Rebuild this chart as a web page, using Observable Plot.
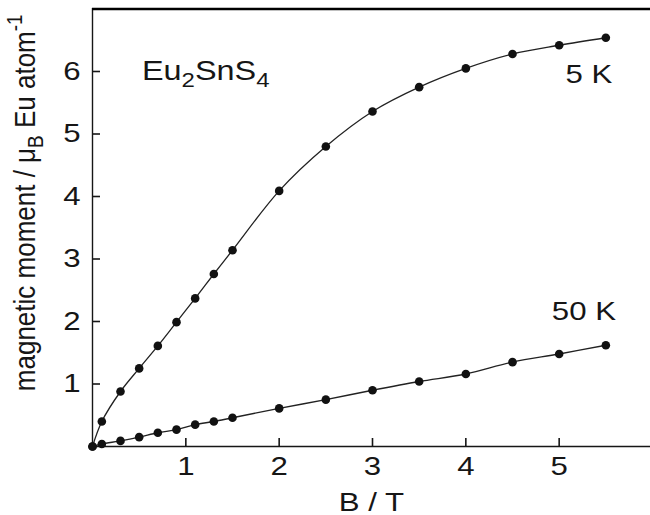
<!DOCTYPE html>
<html>
<head>
<meta charset="utf-8">
<script src="https://cdn.jsdelivr.net/npm/d3@7"></script>
<script src="https://cdn.jsdelivr.net/npm/@observablehq/plot@0.6"></script>
<style>
  body { margin: 0; background: #fff; }
</style>
</head>
<body>
<div id="chart"></div>
<script>
// Applied field B (T) at which the magnetisation was measured
const fieldT = [0, 0.1, 0.3, 0.5, 0.7, 0.9, 1.1, 1.3, 1.5, 2, 2.5, 3, 3.5, 4, 4.5, 5, 5.5];
// Magnetic moment per Eu atom (μB) at 5 K and 50 K
const moment5K  = [0, 0.40, 0.88, 1.25, 1.61, 1.99, 2.37, 2.76, 3.14, 4.09, 4.80, 5.36, 5.75, 6.05, 6.28, 6.42, 6.54];
const moment50K = [0, 0.04, 0.09, 0.15, 0.22, 0.27, 0.35, 0.40, 0.46, 0.61, 0.75, 0.90, 1.04, 1.16, 1.35, 1.48, 1.62];
const temperatures = ["5 K", "50 K"];

const xTicks = [1, 2, 3, 4, 5];
const yTicks = [1, 2, 3, 4, 5, 6];
const xLabel = "B / T";
const yLabel = "magnetic moment / μB Eu atom-1";
const compound = "Eu2SnS4";

const rows = [
  ...fieldT.map((B, i) => ({T: temperatures[0], B, m: moment5K[i]})),
  ...fieldT.map((B, i) => ({T: temperatures[1], B, m: moment50K[i]}))
];

const ink = "#161616";
const fontSize = 26;
const fmt = d3.format("d");

// frame geometry (px)
const W = 650, H = 515;
const mLeft = 92, mRight = 0, mTop = 8, mBottom = 69;
const tickLen = 8;
const frameW = W - mLeft - mRight, frameH = H - mTop - mBottom;

const plot = Plot.plot({
  width: W,
  height: H,
  marginLeft: mLeft,
  marginRight: mRight,
  marginTop: mTop,
  marginBottom: mBottom,
  style: {
    fontFamily: "'Liberation Sans', Arial, Helvetica, sans-serif",
    fontSize: fontSize + "px",
    color: ink,
    background: "#fff"
  },
  x: {domain: [0, 6], range: [92, 652]},
  y: {domain: [0, 7], range: [446, 8.5]},
  marks: [
    // inward-pointing tick marks
    Plot.ruleX(xTicks, {x: d => d, insetTop: frameH - tickLen, stroke: ink, strokeWidth: 1.6}),
    Plot.ruleY(yTicks, {y: d => d, insetRight: frameW - tickLen, stroke: ink, strokeWidth: 1.6}),
    // tick labels and axis title
    Plot.axisX(xTicks, {tickSize: 0, tickPadding: 10, tickFormat: fmt, fill: ink,
      label: xLabel, labelAnchor: "center", labelOffset: 64, labelArrow: "none"}),
    Plot.axisY(yTicks, {tickSize: 0, tickPadding: 12, tickFormat: fmt, fill: ink, label: null}),
    Plot.text([yLabel], {x: 0, y: 3.9, dx: -58, rotate: -90, text: d => d,
      textAnchor: "middle", lineAnchor: "bottom", fill: ink}),
    // frame: left and bottom axes, heavy top edge
    Plot.ruleX([0], {stroke: ink, strokeWidth: 1.4}),
    Plot.ruleY([0], {stroke: ink, strokeWidth: 1.4}),
    Plot.ruleY([7], {stroke: "#000", strokeWidth: 2.6}),
    // data
    Plot.line(rows, {x: "B", y: "m", z: "T", stroke: "#222", strokeWidth: 1.3, curve: "catmull-rom"}),
    Plot.dot(rows, {x: "B", y: "m", r: 4.3, fill: "#111", stroke: null}),
    // annotations
    Plot.text([compound], {x: 0.53, y: 5.87, text: d => d, textAnchor: "start", lineAnchor: "bottom",
      fontSize: 27, fill: ink}),
    Plot.text([temperatures[0]], {x: 5.57, y: 5.81, text: d => d, textAnchor: "end", lineAnchor: "bottom", fill: ink}),
    Plot.text([temperatures[1]], {x: 5.61, y: 2.03, text: d => d, textAnchor: "end", lineAnchor: "bottom", fill: ink})
  ]
});

document.getElementById("chart").append(plot);

// Replace plain text with sub/superscript runs
function richText(node, parts, size) {
  node.textContent = "";
  let shift = 0;
  for (const [s, kind] of parts) {
    const t = document.createElementNS("http://www.w3.org/2000/svg", "tspan");
    t.textContent = s;
    const target = kind === "sub" ? 0.28 * size : kind === "sup" ? -0.42 * size : 0;
    if (target !== shift) t.setAttribute("dy", target - shift);
    if (kind) t.setAttribute("font-size", Math.round(size * 0.74));
    shift = target;
    node.appendChild(t);
  }
}

const richParts = new Map([
  [compound, [["Eu"], ["2", "sub"], ["SnS"], ["4", "sub"]]],
  [yLabel, [["magnetic moment / μ"], ["B", "sub"], [" Eu atom"], ["-1", "sup"]]]
]);

plot.querySelectorAll("text").forEach(el => {
  const parts = richParts.get(el.textContent);
  if (parts) richText(el, parts, parseFloat(getComputedStyle(el).fontSize) || fontSize);
});

// The lettering is set slightly wide (across the glyph for the rotated title)
const stretch = 1.2;
plot.querySelectorAll("text").forEach(el => {
  const tr = el.getAttribute("transform") || "";
  if (/rotate/.test(tr)) {
    el.setAttribute("transform", `${tr} scale(1,1.12)`);
    return;
  }
  const anchor = getComputedStyle(el).textAnchor;
  const b = el.getBBox();
  const cx = anchor === "end" ? b.x + b.width : anchor === "middle" ? b.x + b.width / 2 : b.x;
  el.setAttribute("transform", `${tr} translate(${cx},0) scale(${stretch},1) translate(${-cx},0)`);
});
</script>
</body>
</html>
